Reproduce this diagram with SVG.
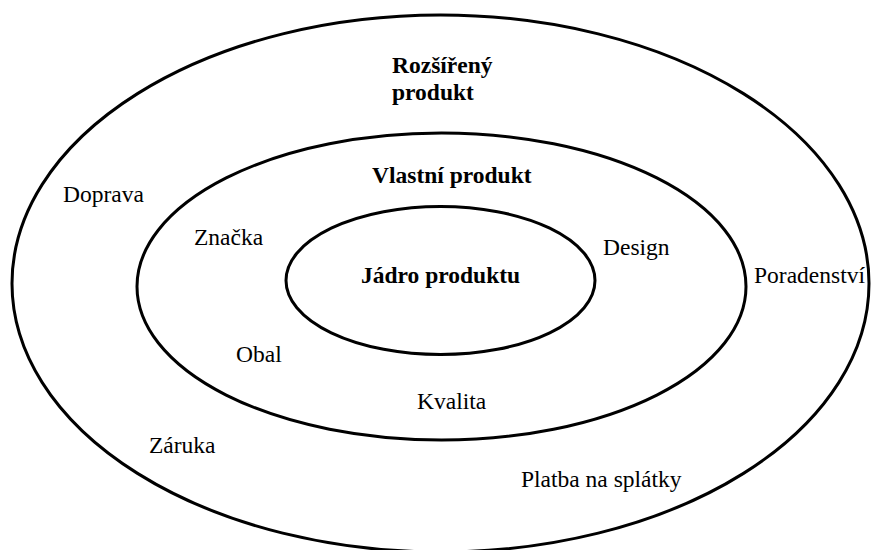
<svg xmlns="http://www.w3.org/2000/svg" width="872" height="550" viewBox="0 0 872 550">
<style>
.ring{fill:none;stroke:#000;stroke-width:3}
text{font-family:"Liberation Serif","Times New Roman",serif;font-size:23.5px;fill:#000}
.b{font-weight:bold}
</style>
<rect width="872" height="550" fill="#fff"/>
<g id="outer"><ellipse class="ring" cx="440.5" cy="283.5" rx="428.5" ry="268.5"/>
<text class="b" x="392" y="73">Rozšířený</text>
<text class="b" x="392" y="100">produkt</text>
<text x="63" y="202">Doprava</text>
<text x="754" y="283">Poradenství</text>
<text x="149" y="453">Záruka</text>
<text x="521" y="487">Platba na splátky</text>
</g>
<g id="middle"><ellipse class="ring" cx="441.5" cy="286.5" rx="304.5" ry="153.5"/>
<text class="b" x="372" y="183">Vlastní produkt</text>
<text x="194" y="245">Značka</text>
<text x="603" y="255">Design</text>
<text x="236" y="362">Obal</text>
<text x="417" y="409">Kvalita</text>
</g>
<g id="inner"><ellipse class="ring" cx="440.5" cy="280.5" rx="154.5" ry="74"/>
<text class="b" x="361" y="283">Jádro produktu</text>
</g>
</svg>
